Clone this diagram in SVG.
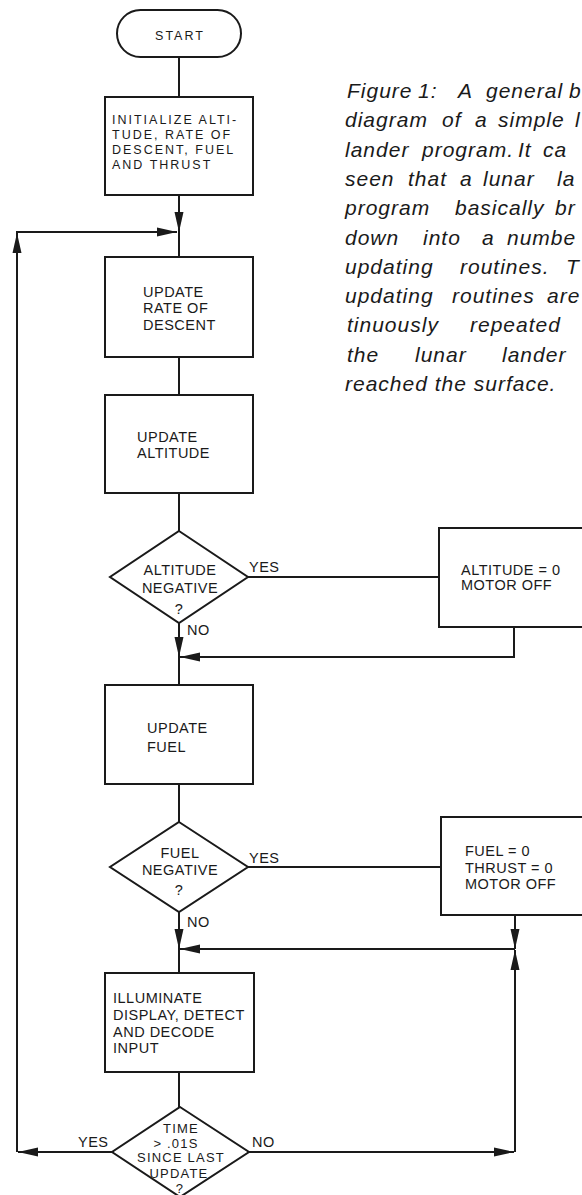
<svg xmlns="http://www.w3.org/2000/svg" width="582" height="1195" viewBox="0 0 582 1195">
<style>
.n{fill:#fff;stroke:#1a1a1a;stroke-width:2}
.c{fill:none;stroke:#1a1a1a;stroke-width:2}
.t{font-family:"Liberation Sans",Arial,sans-serif;font-size:14.5px;letter-spacing:0.5px;fill:#1a1a1a}
.ts{font-family:"Liberation Sans",Arial,sans-serif;font-size:12.5px;letter-spacing:2px;fill:#1a1a1a}
.td{font-family:"Liberation Sans",Arial,sans-serif;font-size:13px;letter-spacing:1.2px;fill:#1a1a1a}
.m{text-anchor:middle}
.cap{font-family:"Liberation Sans",Arial,sans-serif;font-size:21px;font-style:italic;letter-spacing:1px;fill:#1a1a1a}
</style>
<defs>
<marker id="ah" markerUnits="userSpaceOnUse" markerWidth="20" markerHeight="10" viewBox="0 0 20 10" refX="20" refY="5" orient="auto">
<path d="M0,0.5 L20,5 L0,9.5 Z" fill="#1a1a1a"/>
</marker>
</defs>
<rect width="582" height="1195" fill="#fff"/>

<g id="connectors">
<line class="c" x1="179" y1="57" x2="179" y2="97"/>
<line class="c" x1="179" y1="195" x2="179" y2="232" marker-end="url(#ah)"/>
<line class="c" x1="179" y1="232" x2="179" y2="257"/>
<line class="c" x1="179" y1="357" x2="179" y2="395"/>
<line class="c" x1="179" y1="493" x2="179" y2="531"/>
<line class="c" x1="248" y1="577" x2="439" y2="577"/>
<line class="c" x1="179" y1="623" x2="179" y2="657" marker-end="url(#ah)"/>
<polyline class="c" points="514,627 514,657 180,657" marker-end="url(#ah)"/>
<line class="c" x1="179" y1="657" x2="179" y2="685"/>
<line class="c" x1="179" y1="784" x2="179" y2="822"/>
<line class="c" x1="248" y1="867" x2="441" y2="867"/>
<line class="c" x1="179" y1="912" x2="179" y2="949" marker-end="url(#ah)"/>
<line class="c" x1="515" y1="915" x2="515" y2="949" marker-end="url(#ah)"/>
<line class="c" x1="515" y1="949" x2="180" y2="949" marker-end="url(#ah)"/>
<line class="c" x1="179" y1="949" x2="179" y2="973"/>
<line class="c" x1="179" y1="1072" x2="179" y2="1107"/>
<line class="c" x1="112" y1="1152" x2="18" y2="1152" marker-end="url(#ah)"/>
<line class="c" x1="17" y1="1152" x2="17" y2="233" marker-end="url(#ah)"/>
<line class="c" x1="16" y1="232" x2="177" y2="232" marker-end="url(#ah)"/>
<line class="c" x1="249" y1="1152" x2="514" y2="1152" marker-end="url(#ah)"/>
<line class="c" x1="515" y1="1152" x2="515" y2="950" marker-end="url(#ah)"/>
<text class="t" x="249" y="572">YES</text>
<text class="t" x="187" y="635">NO</text>
<text class="t" x="249" y="863">YES</text>
<text class="t" x="187" y="927">NO</text>
<text class="t" x="78" y="1147">YES</text>
<text class="t" x="252" y="1147">NO</text>
</g>

<g id="start">
<rect class="n" x="117" y="10" width="124" height="47" rx="23.5"/>
<text class="ts m" x="180" y="40">START</text>
</g>

<g id="init">
<rect class="n" x="105" y="97" width="148" height="98"/>
<text class="ts" x="112" y="124">INITIALIZE ALTI-</text>
<text class="ts" x="112" y="139">TUDE, RATE OF</text>
<text class="ts" x="112" y="154">DESCENT, FUEL</text>
<text class="ts" x="112" y="169">AND THRUST</text>
</g>

<g id="update-rate">
<rect class="n" x="105" y="257" width="148" height="100"/>
<text class="t" x="143" y="297">UPDATE</text>
<text class="t" x="143" y="313">RATE OF</text>
<text class="t" x="143" y="330">DESCENT</text>
</g>

<g id="update-altitude">
<rect class="n" x="105" y="395" width="148" height="98"/>
<text class="t" x="137" y="442">UPDATE</text>
<text class="t" x="137" y="458">ALTITUDE</text>
</g>

<g id="altitude-negative">
<polygon class="n" points="179,531 248,577 179,623 110,577"/>
<text class="t m" x="180" y="575">ALTITUDE</text>
<text class="t m" x="180" y="593">NEGATIVE</text>
<text class="t m" x="179" y="614">?</text>
</g>

<g id="altitude-zero">
<rect class="n" x="439" y="528" width="160" height="99"/>
<text class="t" x="461" y="575">ALTITUDE = 0</text>
<text class="t" x="461" y="590">MOTOR OFF</text>
</g>

<g id="update-fuel">
<rect class="n" x="105" y="685" width="148" height="99"/>
<text class="t" x="147" y="733">UPDATE</text>
<text class="t" x="147" y="752">FUEL</text>
</g>

<g id="fuel-negative">
<polygon class="n" points="179,822 248,867 179,912 110,867"/>
<text class="t m" x="180" y="858">FUEL</text>
<text class="t m" x="180" y="875">NEGATIVE</text>
<text class="t m" x="179" y="895">?</text>
</g>

<g id="fuel-zero">
<rect class="n" x="441" y="817" width="160" height="98"/>
<text class="t" x="465" y="856">FUEL = 0</text>
<text class="t" x="465" y="873">THRUST = 0</text>
<text class="t" x="465" y="889">MOTOR OFF</text>
</g>

<g id="illuminate">
<rect class="n" x="105" y="973" width="149" height="99"/>
<text class="t" x="113" y="1003">ILLUMINATE</text>
<text class="t" x="113" y="1020">DISPLAY, DETECT</text>
<text class="t" x="113" y="1037">AND DECODE</text>
<text class="t" x="113" y="1053">INPUT</text>
</g>

<g id="time-check">
<polygon class="n" points="180,1107 249,1152 180,1197 112,1152"/>
<text class="td m" x="181" y="1133">TIME</text>
<text class="td m" x="176" y="1148">&gt; .01S</text>
<text class="td m" x="181" y="1162">SINCE LAST</text>
<text class="td m" x="179" y="1178">UPDATE</text>
<text class="td m" x="180" y="1193">?</text>
</g>

<g id="caption">
<text class="cap" y="98"><tspan x="347">Figure</tspan><tspan x="418">1:</tspan><tspan x="458">A</tspan><tspan x="486">general</tspan><tspan x="569">b</tspan></text>
<text class="cap" y="127"><tspan x="345">diagram</tspan><tspan x="442">of</tspan><tspan x="475">a</tspan><tspan x="498">simple</tspan><tspan x="575">l</tspan></text>
<text class="cap" y="156.5"><tspan x="345">lander</tspan><tspan x="422">program.</tspan><tspan x="518">It</tspan><tspan x="543">ca</tspan></text>
<text class="cap" y="186"><tspan x="345">seen</tspan><tspan x="408">that</tspan><tspan x="460">a</tspan><tspan x="483">lunar</tspan><tspan x="557">la</tspan></text>
<text class="cap" y="215"><tspan x="345">program</tspan><tspan x="455">basically</tspan><tspan x="555">br</tspan></text>
<text class="cap" y="244.5"><tspan x="345">down</tspan><tspan x="423">into</tspan><tspan x="482">a</tspan><tspan x="507">numbe</tspan></text>
<text class="cap" y="274"><tspan x="345">updating</tspan><tspan x="460">routines.</tspan><tspan x="566">T</tspan></text>
<text class="cap" y="303"><tspan x="345">updating</tspan><tspan x="452">routines</tspan><tspan x="547">are</tspan></text>
<text class="cap" y="332"><tspan x="347">tinuously</tspan><tspan x="470">repeated</tspan></text>
<text class="cap" y="361.5"><tspan x="347">the</tspan><tspan x="415">lunar</tspan><tspan x="502">lander</tspan></text>
<text class="cap" x="345" y="391">reached the surface.</text>
</g>
</svg>
